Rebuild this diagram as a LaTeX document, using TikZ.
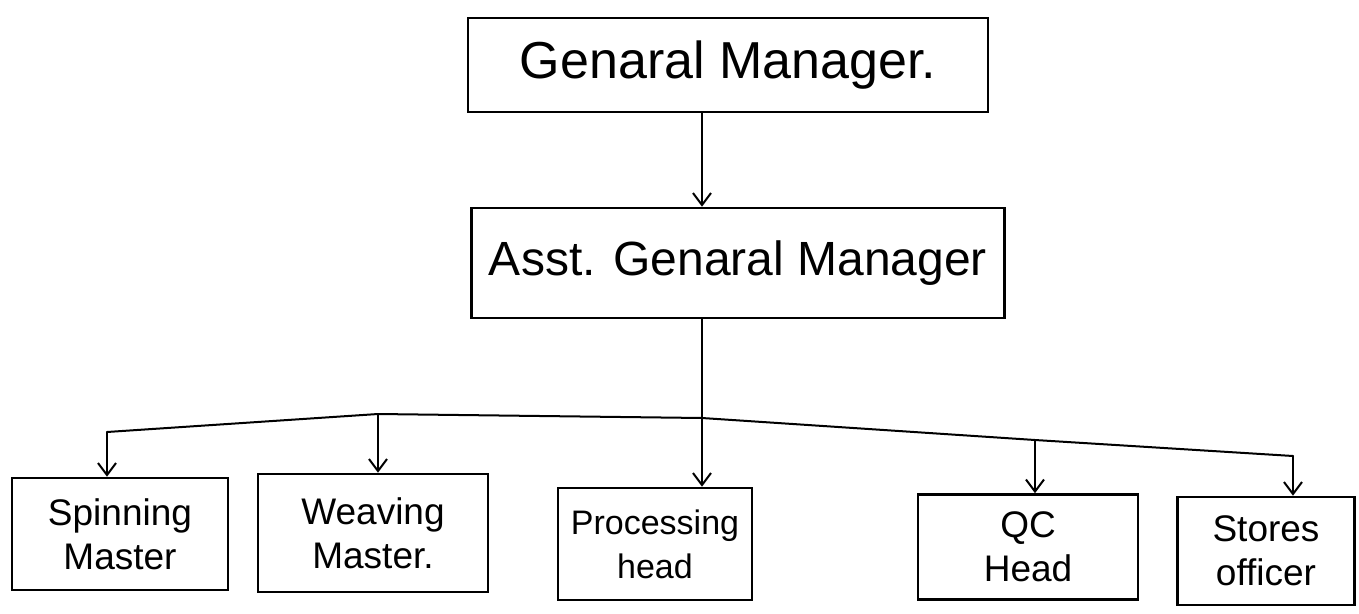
\documentclass[tikz,border=0pt]{standalone}
\usepackage{fontspec}
\setmainfont{Liberation Sans}
\usetikzlibrary{arrows.meta}
\begin{document}
\begin{tikzpicture}[x=1pt,y=-1pt,
  box/.style={draw, line width=2.6pt, inner sep=0pt, align=center},
  link/.style={line width=2pt, line cap=round, line join=round},
  arr/.style={link, -{Straight Barb[length=12pt,width=18pt,line width=2pt]}},
  big/.style={font=\fontsize{52}{58}\selectfont},
  mid/.style={font=\fontsize{48}{54}\selectfont},
  small/.style={font=\fontsize{37}{44}\selectfont},
  narrow/.style={font=\fontsize{34}{44}\selectfont}]
\useasboundingbox (0,0) rectangle (1359,613);

% top levels
\node[box,big,minimum width=520pt,minimum height=94pt] (gm) at (728,65) {Genaral Manager.};
\node[box,mid,minimum width=533pt,minimum height=110pt] (agm) at (738,263) {Asst. Genaral Manager};

% department heads
\node[box,small,minimum width=216pt,minimum height=112pt] (spin)  at (120,534)  {Spinning\\Master};
\node[box,small,minimum width=230pt,minimum height=118pt] (weave) at (373,533)  {Weaving\\Master.};
\node[box,narrow,minimum width=194pt,minimum height=112pt] (proc) at (655,544)  {Processing\\head};
\node[box,small,minimum width=220pt,minimum height=105pt] (qc)    at (1028,547) {QC\\Head};
\node[box,small,minimum width=177pt,minimum height=108pt] (store) at (1266,551) {Stores\\officer};

% distribution bus
\coordinate (b1) at (107,432);
\coordinate (b2) at (378,414);
\coordinate (b3) at (702,418);
\coordinate (b4) at (1035,440);
\coordinate (b5) at (1293,456);
\draw[link] (b1) -- (b2) -- (b3) -- (b4) -- (b5);

% connectors
\draw[arr] (gm.south -| b3) -- (agm.north -| b3);
\draw[arr] (agm.south -| b3) -- (b3 |- proc.north);
\draw[arr] (b1) -- (b1 |- spin.north);
\draw[arr] (b2) -- (b2 |- weave.north);
\draw[arr] (b4) -- (b4 |- qc.north);
\draw[arr] (b5) -- (b5 |- store.north);
\end{tikzpicture}
\end{document}
